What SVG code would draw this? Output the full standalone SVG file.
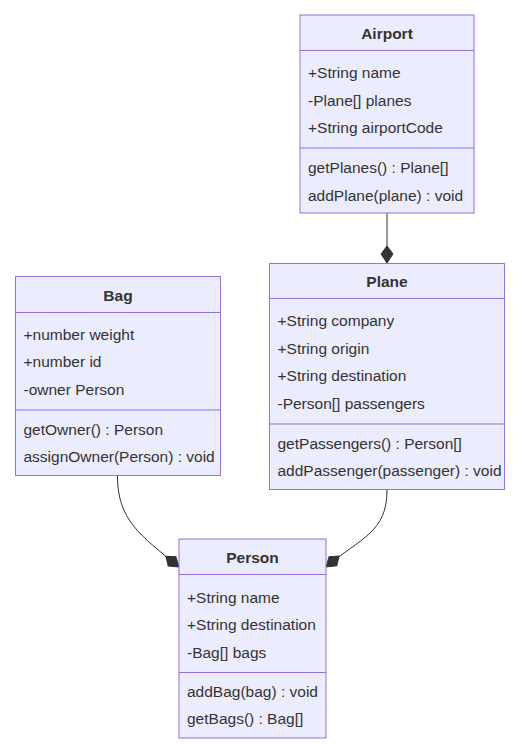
<svg xmlns="http://www.w3.org/2000/svg" width="518" height="745" viewBox="0 0 518 745">
<style>
  .box { fill: #ECECFF; stroke: #9370DB; stroke-width: 1; }
  .div { stroke: #9370DB; stroke-width: 1; fill: none; }
  .t { font-family: "Liberation Sans", Arial, sans-serif; font-size: 15.5px; fill: #333333; }
  .title { font-family: "Liberation Sans", Arial, sans-serif; font-size: 15.5px; font-weight: bold; fill: #333333; text-anchor: middle; }
  .edge { stroke: #333333; stroke-width: 1; fill: none; }
</style>
<defs>
  <marker id="comp" viewBox="0 0 19 14" markerWidth="19" markerHeight="14" refX="18" refY="7" orient="auto" markerUnits="userSpaceOnUse">
    <path d="M18,7 L9,13 L1,7 L9,1 Z" fill="#333333" stroke="#333333" stroke-width="1"/>
  </marker>
</defs>
<rect width="518" height="745" fill="#ffffff"/>

<g id="edges">
  <path class="edge" d="M387,213 L387,263" marker-end="url(#comp)"/>
  <path class="edge" d="M117.5,476 C117.5,520 140,535 179,567" marker-end="url(#comp)"/>
  <path class="edge" d="M387,490 C387,532 362,537 326,567" marker-end="url(#comp)"/>
</g>

<g id="Airport">
  <rect class="box" x="300" y="15" width="174" height="198"/>
  <line class="div" x1="300" y1="50.5" x2="474" y2="50.5"/>
  <line class="div" x1="300" y1="148" x2="474" y2="148"/>
  <text class="title" x="387" y="39">Airport</text>
  <text class="t" x="308" y="78">+String name</text>
  <text class="t" x="308" y="105.5">-Plane[] planes</text>
  <text class="t" x="308" y="133">+String airportCode</text>
  <text class="t" x="308" y="173">getPlanes() : Plane[]</text>
  <text class="t" x="308" y="200.5">addPlane(plane) : void</text>
</g>

<g id="Bag">
  <rect class="box" x="15.5" y="276.5" width="205" height="199"/>
  <line class="div" x1="15.5" y1="312.5" x2="220.5" y2="312.5"/>
  <line class="div" x1="15.5" y1="410" x2="220.5" y2="410"/>
  <text class="title" x="118" y="301">Bag</text>
  <text class="t" x="23.5" y="339.5">+number weight</text>
  <text class="t" x="23.5" y="367">+number id</text>
  <text class="t" x="23.5" y="394.5">-owner Person</text>
  <text class="t" x="23.5" y="434.5">getOwner() : Person</text>
  <text class="t" x="23.5" y="462">assignOwner(Person) : void</text>
</g>

<g id="Plane">
  <rect class="box" x="269.5" y="263.5" width="235" height="226"/>
  <line class="div" x1="269.5" y1="298.5" x2="504.5" y2="298.5"/>
  <line class="div" x1="269.5" y1="424" x2="504.5" y2="424"/>
  <text class="title" x="387" y="287">Plane</text>
  <text class="t" x="277.5" y="326">+String company</text>
  <text class="t" x="277.5" y="353.5">+String origin</text>
  <text class="t" x="277.5" y="381">+String destination</text>
  <text class="t" x="277.5" y="408.5">-Person[] passengers</text>
  <text class="t" x="277.5" y="448.5">getPassengers() : Person[]</text>
  <text class="t" x="277.5" y="476">addPassenger(passenger) : void</text>
</g>

<g id="Person">
  <rect class="box" x="179" y="539" width="147" height="199"/>
  <line class="div" x1="179" y1="574.5" x2="326" y2="574.5"/>
  <line class="div" x1="179" y1="672.5" x2="326" y2="672.5"/>
  <text class="title" x="252.5" y="563">Person</text>
  <text class="t" x="187" y="602.5">+String name</text>
  <text class="t" x="187" y="630">+String destination</text>
  <text class="t" x="187" y="657.5">-Bag[] bags</text>
  <text class="t" x="187" y="696.5">addBag(bag) : void</text>
  <text class="t" x="187" y="724">getBags() : Bag[]</text>
</g>
</svg>
